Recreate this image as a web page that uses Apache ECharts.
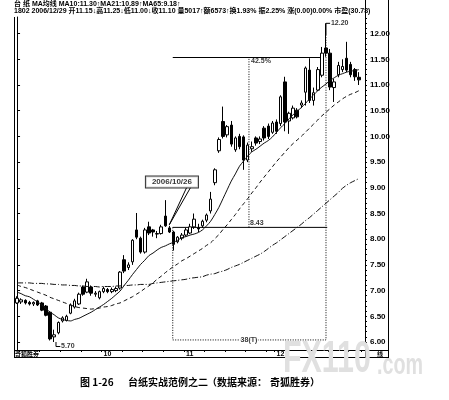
<!DOCTYPE html>
<html><head><meta charset="utf-8">
<script src="https://cdn.jsdelivr.net/npm/echarts@6/dist/echarts.min.js"></script>
<style>html,body{margin:0;padding:0;background:#fff}#c{width:449px;height:400px}</style>
</head><body><div id="c"></div>
<script>
// ---------- data ----------
const dates = [
 '2006-09-01','2006-09-04','2006-09-05','2006-09-06','2006-09-07','2006-09-08','2006-09-11','2006-09-12','2006-09-13','2006-09-14','2006-09-15',
 '2006-09-18','2006-09-19','2006-09-20','2006-09-21','2006-09-22','2006-09-25','2006-09-26','2006-09-27','2006-09-28','2006-09-29',
 '2006-10-02','2006-10-03','2006-10-04','2006-10-05','2006-10-09','2006-10-11','2006-10-12','2006-10-13','2006-10-16','2006-10-17',
 '2006-10-18','2006-10-19','2006-10-20','2006-10-23','2006-10-24','2006-10-25','2006-10-26','2006-10-27','2006-10-30','2006-10-31',
 '2006-11-01','2006-11-02','2006-11-03','2006-11-06','2006-11-07','2006-11-08','2006-11-09','2006-11-10','2006-11-13','2006-11-14',
 '2006-11-15','2006-11-16','2006-11-17','2006-11-20','2006-11-21','2006-11-22','2006-11-23','2006-11-24','2006-11-27','2006-11-28',
 '2006-11-29','2006-11-30',
 '2006-12-01','2006-12-04','2006-12-05','2006-12-06','2006-12-07','2006-12-08','2006-12-11','2006-12-12','2006-12-13','2006-12-14',
 '2006-12-15','2006-12-18','2006-12-19','2006-12-20','2006-12-21','2006-12-22','2006-12-25','2006-12-26','2006-12-27','2006-12-28','2006-12-29'
];
// [open, close, low, high]
const ohlc = [
 [6.76,6.85,6.74,6.89],[6.78,6.82,6.74,6.85],[6.81,6.76,6.73,6.83],[6.77,6.74,6.71,6.80],[6.74,6.77,6.70,6.79],
 [6.80,6.72,6.70,6.82],[6.76,6.62,6.60,6.78],[6.70,6.52,6.50,6.72],[6.58,6.06,6.03,6.60],[6.10,6.14,6.00,6.24],
 [6.18,6.38,6.15,6.40],[6.41,6.47,6.38,6.50],[6.42,6.50,6.40,6.53],[6.56,6.72,6.54,6.75],[6.68,6.80,6.65,6.84],
 [6.74,6.93,6.72,6.96],[7.07,6.93,6.90,7.10],[6.97,7.17,6.95,7.23],[7.07,6.95,6.90,7.10],[6.93,6.95,6.88,6.99],
 [6.86,6.98,6.83,7.00],[6.98,7.04,6.95,7.08],[7.02,6.98,6.95,7.05],[6.98,7.02,6.95,7.06],[7.00,7.04,6.97,7.08],
 [7.05,7.36,7.02,7.38],[7.60,7.38,7.34,7.69],[7.45,7.50,7.40,7.55],[7.56,7.98,7.50,8.00],[8.18,8.04,8.00,8.51],
 [8.02,7.75,7.72,8.05],[7.75,8.18,7.72,8.22],[8.24,8.12,8.08,8.34],[8.18,8.14,8.05,8.20],[8.10,8.11,8.02,8.16],
 [8.11,8.24,8.09,8.28],[8.45,8.26,8.24,8.76],[8.22,8.14,8.12,8.26],[8.14,7.90,7.78,8.16],[7.95,8.04,7.92,8.06],
 [8.02,8.08,7.98,8.12],[8.08,8.18,8.05,8.22],[8.12,8.24,8.10,8.30],[8.24,8.39,8.20,8.50],[8.22,8.20,8.14,8.30],
 [8.26,8.35,8.22,8.38],[8.37,8.47,8.33,8.50],[8.55,8.78,8.50,8.92],[9.10,9.35,9.05,9.38],[9.72,9.94,9.68,9.98],
 [10.29,10.00,9.96,10.58],[10.03,10.19,9.98,10.22],[10.22,9.85,9.80,10.30],[9.74,9.97,9.70,10.00],[10.00,9.80,9.75,10.05],
 [9.99,9.54,9.35,10.02],[9.54,9.83,9.50,9.88],[9.76,9.80,9.70,9.90],[9.97,9.87,9.82,10.00],[9.90,9.95,9.85,10.00],
 [10.16,9.97,9.92,10.20],[10.20,10.00,9.95,10.25],[10.08,10.26,10.05,10.30],[10.28,10.10,10.05,10.33],[10.25,10.77,10.20,10.80],
 [11.06,10.28,10.10,11.16],[10.30,10.45,10.05,10.48],[10.36,10.55,10.33,10.60],[10.51,10.38,10.35,10.55],[10.61,10.65,10.55,10.70],
 [10.86,11.33,10.60,11.36],[11.29,10.70,10.65,11.52],[10.70,10.85,10.60,10.95],[10.90,11.30,10.88,11.35],[11.19,11.62,11.15,11.74],
 [11.72,11.62,11.55,12.20],[11.62,10.96,10.90,11.70],[10.95,11.06,10.67,11.12],[11.20,11.38,11.15,11.45],[11.30,11.36,11.25,11.50],
 [11.52,11.29,11.25,11.84],[11.40,11.20,11.15,11.45],[11.30,11.16,11.08,11.33],[11.15,11.10,11.00,11.25]
];
const ma10 = [
 6.97,6.94,6.90,6.88,6.83,6.78,6.72,6.65,6.58,6.53,6.47,6.44,6.42,6.41,6.44,6.46,6.50,6.54,6.58,6.63,
 6.68,6.73,6.79,6.85,6.92,6.99,7.10,7.20,7.31,7.41,7.51,7.59,7.68,7.73,7.79,7.84,7.87,7.91,7.94,7.98,
 8.03,8.05,8.08,8.10,8.13,8.18,8.26,8.35,8.48,8.62,8.79,8.96,9.13,9.27,9.42,9.52,9.62,9.70,9.75,9.81,
 9.87,9.92,9.99,10.08,10.17,10.25,10.34,10.42,10.49,10.56,10.64,10.73,10.81,10.89,10.96,11.02,11.09,11.14,11.19,11.22,
 11.25,11.27,11.28,11.30
];
const ma21 = [
 7.11,7.08,7.06,7.03,7.00,6.97,6.94,6.91,6.87,6.84,6.81,6.78,6.75,6.72,6.69,6.67,6.66,6.65,6.64,6.65,
 6.66,6.68,6.69,6.71,6.74,6.76,6.80,6.84,6.88,6.93,6.98,7.04,7.09,7.15,7.22,7.28,7.35,7.41,7.47,7.52,
 7.58,7.62,7.67,7.72,7.77,7.82,7.88,7.93,8.01,8.09,8.19,8.28,8.38,8.48,8.59,8.69,8.79,8.90,9.00,9.11,
 9.21,9.31,9.41,9.51,9.60,9.69,9.78,9.86,9.93,10.00,10.08,10.16,10.24,10.32,10.40,10.47,10.54,10.61,10.67,10.73,
 10.78,10.82,10.85,10.89
];
const ma65 = [
 7.15,7.15,7.15,7.15,7.14,7.14,7.14,7.13,7.13,7.12,7.12,7.11,7.11,7.10,7.10,7.09,7.09,7.08,7.08,7.08,
 7.07,7.08,7.08,7.08,7.09,7.09,7.10,7.10,7.11,7.11,7.12,7.12,7.12,7.14,7.15,7.16,7.17,7.18,7.19,7.20,
 7.21,7.22,7.24,7.25,7.26,7.27,7.30,7.32,7.33,7.36,7.38,7.41,7.45,7.48,7.51,7.55,7.59,7.63,7.67,7.71,
 7.76,7.82,7.88,7.93,7.99,8.05,8.11,8.17,8.23,8.29,8.36,8.42,8.49,8.56,8.63,8.70,8.77,8.84,8.91,8.99,
 9.05,9.10,9.14,9.18
];
const priceLabels = [6,6.5,7,7.5,8,8.5,9,9.5,10,10.5,11,11.5,12];
const priceMinorTicks = [5.9,6,6.1,6.2,6.3,6.4,6.5,6.6,6.7,6.8,6.9,7,7.1,7.2,7.3,7.4,7.5,7.6,7.7,7.8,7.9,8,8.1,8.2,8.3,8.4,8.5,8.6,8.7,8.8,8.9,9,
 9.1,9.2,9.3,9.4,9.5,9.6,9.7,9.8,9.9,10,10.1,10.2,10.3,10.4,10.5,10.6,10.7,10.8,10.9,11,11.1,11.2,11.3,11.4,11.5,11.6,11.7,11.8,11.9,12,12.1,12.2,12.3];
const headerLine1 = '台 纸 MA均线 MA10:11.30↑MA21:10.89↑MA65:9.18↑';
const headerLine2 = '1802 2006/12/29 开11.15↓高11.25↓低11.00↓收11.10 量5017↑额6573↑换1.93% 振2.25% 涨(0.00)0.00% 市盈(30.78)';
// annotation texts and their anchors (category index, price)
const noteTexts = ['42.5%','8.43','38(T)','12.20','5.70'];
const noteIdx   = [56.8, 56.55, 56.3, 76.2, 10.67];
const noteVal   = [11.467, 8.305, 6.04, 12.206, 5.912];
const calloutText = '2006/10/26';
const calloutAt = [37.6, 9.113];
const guideLines = [
 {coords:[[37.8,11.535],[74.3,11.535]], dash:'solid'},
 {coords:[[37.8,8.23],[75.3,8.23]], dash:'solid'},
 {coords:[[37.8,8.23],[37.8,6.04],[75.0,6.04],[75.0,11.97]], dash:'dot'},
 {coords:[[56.3,8.23],[56.3,11.535]], dash:'dot'},
 {coords:[[75.0,11.97],[75.0,12.2],[76.0,12.2]], dash:'solid'},
 {coords:[[9.45,6.0],[9.45,5.912],[10.5,5.912]], dash:'solid'},
 {coords:[[41.2,9.01],[36.96,8.28],[42.15,9.01]], dash:'solid'}
];
// ---------- chart ----------
const Y_MIN = 5.8444, Y_MAX = 12.323;
const NARROW = "'Liberation Sans Narrow','Liberation Sans','Noto Sans CJK SC',sans-serif";
const CJK = "'Noto Sans CJK SC','Liberation Sans',sans-serif";
const monthStart = [];
dates.forEach((d,i)=>{ if(i>0 && d.slice(5,7)!==dates[i-1].slice(5,7)) monthStart.push(i); });
const tickSet = new Set(monthStart);
dates.forEach((d,i)=>{ if(i%5===1) tickSet.add(i); });

const chart = echarts.init(document.getElementById('c'), null, {renderer:'canvas'});
chart.setOption({
  animation:false,
  backgroundColor:'#fff',
  grid:{left:15, top:17, width:346, height:333},
  xAxis:[
   {type:'category', data:dates, boundaryGap:true,
    axisLine:{lineStyle:{color:'#000',width:1}},
    axisTick:{show:true, length:2, interval:(i)=>tickSet.has(i), lineStyle:{color:'#000'}},
    axisLabel:{interval:(i)=>monthStart.includes(i), formatter:(v)=>String(+v.slice(5,7)),
      fontSize:7, fontWeight:'bold', color:'#000', margin:1, align:'left', fontFamily:NARROW},
    splitLine:{show:false}},
   {type:'value', min:-0.5, max:83.5, show:false}
  ],
  yAxis:[
   {type:'value', position:'right', offset:4, min:Y_MIN, max:Y_MAX, splitLine:{show:false},
    axisLine:{show:true, lineStyle:{color:'#000',width:1}},
    axisTick:{show:true, customValues:priceLabels, length:3, lineStyle:{color:'#000'}},
    axisLabel:{customValues:priceLabels, formatter:(v)=>v.toFixed(2), fontSize:8, fontWeight:'bold',
      color:'#000', margin:5, fontFamily:NARROW}},
   {type:'value', position:'right', offset:4, min:Y_MIN, max:Y_MAX, splitLine:{show:false},
    axisLine:{show:false}, axisLabel:{show:false},
    axisTick:{show:true, customValues:priceMinorTicks, length:2, lineStyle:{color:'#000'}}}
  ],
  series:[
   {type:'candlestick', data:ohlc, barWidth:3,
    itemStyle:{color:'#fff', color0:'#000', borderColor:'#000', borderColor0:'#000', borderWidth:1}},
   {type:'line', data:ma10, symbol:'none', smooth:0.3, lineStyle:{color:'#111', width:1}},
   {type:'line', data:ma21, symbol:'none', smooth:0.3, lineStyle:{color:'#111', width:1, type:[4,3]}},
   {type:'line', data:ma65, symbol:'none', smooth:0.3, lineStyle:{color:'#111', width:1, type:[6,2,1,2]}},
   {type:'lines', coordinateSystem:'cartesian2d', xAxisIndex:1, yAxisIndex:0, polyline:true, silent:true,
    data:guideLines.map(g=>({coords:g.coords, lineStyle:{color:'#000', width:1, type:g.dash==='dot'?[1,1.5]:'solid', opacity:1}}))},
   {type:'scatter', xAxisIndex:1, yAxisIndex:0, symbolSize:0, silent:true, z:10,
    data:noteTexts.map((t,i)=>({value:[noteIdx[i], noteVal[i]], name:t,
      label:{show:true, formatter:t, position:'inside', align: i===2?'center':'left', verticalAlign:'middle',
        fontSize:7, fontWeight:'bold', color:'#000', fontFamily:NARROW,
        backgroundColor: i===2?'#fff':'transparent', padding: i===2?[0,1]:0}}))},
   {type:'scatter', xAxisIndex:1, yAxisIndex:0, symbolSize:0, silent:true, z:11,
    data:[{value:calloutAt, label:{show:true, formatter:calloutText, position:'inside', align:'center', verticalAlign:'middle',
      fontSize:8, fontWeight:'bold', color:'#000', fontFamily:NARROW, backgroundColor:'#fff',
      borderColor:'#000', borderWidth:1, padding:[2,6,1,6]}}]}
  ],
  graphic:[
   {type:'text', left:14, top:1, style:{text:headerLine1, font:"bold 7px "+NARROW, fill:'#000'}},
   {type:'text', left:14, top:8, style:{text:headerLine2, font:"bold 7px "+NARROW, fill:'#000'}},
   {type:'line', shape:{x1:14.5,y1:17,x2:14.5,y2:357.5}, style:{stroke:'#000',lineWidth:1}},
   {type:'line', shape:{x1:365.5,y1:0,x2:365.5,y2:357.5}, style:{stroke:'#000',lineWidth:1}},
   {type:'line', shape:{x1:388.5,y1:0,x2:388.5,y2:357.5}, style:{stroke:'#000',lineWidth:1}},
   {type:'line', shape:{x1:361,y1:350.5,x2:388.5,y2:350.5}, style:{stroke:'#000',lineWidth:1}},
   {type:'line', shape:{x1:14,y1:357.5,x2:389,y2:357.5}, style:{stroke:'#000',lineWidth:1}},
   {type:'text', left:15, top:351, style:{text:'奇狐胜券', font:"bold 6px "+CJK, fill:'#000'}},
   {type:'text', left:377, top:351, style:{text:'线', font:"bold 6px "+CJK, fill:'#000'}},
   {type:'text', x:283, y:338, scaleX:0.69, z:50,
    style:{text:'FX110', font:"bold 44px 'Liberation Sans',sans-serif", fill:'#e0e0e0', textVerticalAlign:'top'}},
   {type:'text', x:377, y:351, scaleX:0.68, z:50,
    style:{text:'.com', font:"bold 29px 'Liberation Sans',sans-serif", fill:'#e0e0e0', textVerticalAlign:'top'}},
   {type:'text', left:80, top:377, style:{text:'图 1-26', font:"bold 10px "+CJK, fill:'#000'}},
   {type:'text', left:128, top:377, style:{text:'台纸实战范例之二', font:"bold 10px "+CJK, fill:'#000'}},
   {type:'text', left:207, top:377, style:{text:'（数据来源：', font:"bold 10px "+CJK, fill:'#000'}},
   {type:'text', left:270, top:377, style:{text:'奇狐胜券）', font:"bold 10px "+CJK, fill:'#000'}}
  ]
});
</script></body></html>
